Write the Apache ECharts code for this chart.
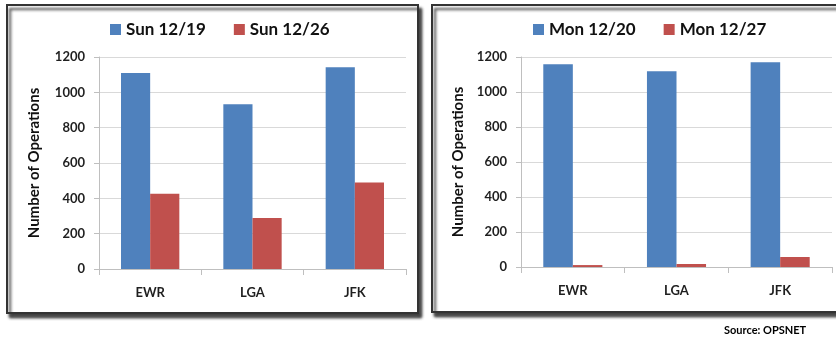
<!DOCTYPE html>
<html>
<head>
<meta charset="utf-8">
<script src="https://cdn.jsdelivr.net/npm/echarts@6/dist/echarts.min.js"></script>
<style>
html,body{margin:0;padding:0;background:#fff;}
#c{width:836px;height:339px;}
</style>
</head>
<body>
<div id="c"></div>
<script>
const categories = ['EWR', 'LGA', 'JFK'];
const leftSeriesNames = ['Sun 12/19', 'Sun 12/26'];
const sun1219 = [1109, 932, 1142];
const sun1226 = [426, 289, 489];
const rightSeriesNames = ['Mon 12/20', 'Mon 12/27'];
const mon1220 = [1158, 1118, 1170];
const mon1227 = [11, 17, 57];
const yTicks = [0, 200, 400, 600, 800, 1000, 1200];
const axisName = 'Number of Operations';
const sourceText = 'Source: OPSNET';

const FONT = 'Lato';
const BLUE = '#4F81BD', RED = '#C0504D';

function xAxis(gi) {
  return {
    type: 'category', gridIndex: gi, data: categories,
    axisLine: {lineStyle: {color: '#bfbfbf', width: 1}},
    axisTick: {show: true, alignWithLabel: false, length: 6, lineStyle: {color: '#bfbfbf'}},
    axisLabel: {fontFamily: FONT, fontWeight: 'bold', fontSize: 13, color: '#1f1f1f', margin: 17}
  };
}
function yAxis(gi, gap) {
  return {
    type: 'value', gridIndex: gi, min: yTicks[0], max: yTicks[yTicks.length - 1], interval: 200,
    name: axisName, nameLocation: 'middle', nameGap: gap, nameRotate: 90,
    nameTextStyle: {fontFamily: FONT, fontWeight: 'bold', fontSize: 15, color: '#111'},
    axisLine: {show: true, lineStyle: {color: '#bfbfbf', width: 1}},
    axisTick: {show: true, length: 5, lineStyle: {color: '#bfbfbf'}},
    axisLabel: {fontFamily: FONT, fontWeight: 'bold', fontSize: 13, color: '#1f1f1f', margin: 14,
      formatter: function (v) { return String(v); }},
    splitLine: {lineStyle: {color: '#d9d9d9', width: 1}}
  };
}
function bar(name, data, color, gi) {
  return {
    name: name, type: 'bar', xAxisIndex: gi, yAxisIndex: gi, data: data,
    barCategoryGap: '43%', barGap: '0%',
    itemStyle: {color: color}
  };
}
const legendText = {fontFamily: FONT, fontWeight: 'bold', fontSize: 17, color: '#111'};

const chart = echarts.init(document.getElementById('c'), null, {renderer: 'canvas'});
chart.setOption({
  animation: false,
  backgroundColor: '#fff',
  graphic: [
    {type: 'rect', z: -10, shape: {x: 7, y: 5, width: 411, height: 308},
     style: {fill: '#fff', stroke: '#333', lineWidth: 2, shadowBlur: 3, shadowOffsetX: 3, shadowOffsetY: 4, shadowColor: 'rgba(0,0,0,0.75)'}},
    {type: 'rect', z: -10, shape: {x: 432, y: 5, width: 420, height: 307},
     style: {fill: '#fff', stroke: '#333', lineWidth: 2, shadowBlur: 3, shadowOffsetX: 3, shadowOffsetY: 4, shadowColor: 'rgba(0,0,0,0.75)'}},
    {type: 'text', z: 10, left: 724, top: 325,
     style: {text: sourceText, fontFamily: FONT, fontWeight: 'bold', fontSize: 11, fill: '#000'}}
  ],
  legend: [
    {data: leftSeriesNames, left: 105, top: 16, itemWidth: 11, itemHeight: 11, itemGap: 28,
     icon: 'rect', textStyle: legendText},
    {data: rightSeriesNames, left: 528, top: 16, itemWidth: 11, itemHeight: 11, itemGap: 28,
     icon: 'rect', textStyle: legendText}
  ],
  grid: [
    {left: 99, right: 430, top: 57, bottom: 70},
    {left: 521, right: 4, top: 57, bottom: 72}
  ],
  xAxis: [xAxis(0), xAxis(1)],
  yAxis: [yAxis(0, 57), yAxis(1, 55)],
  series: [
    bar(leftSeriesNames[0], sun1219, BLUE, 0),
    bar(leftSeriesNames[1], sun1226, RED, 0),
    bar(rightSeriesNames[0], mon1220, BLUE, 1),
    bar(rightSeriesNames[1], mon1227, RED, 1)
  ]
});
</script>
</body>
</html>
